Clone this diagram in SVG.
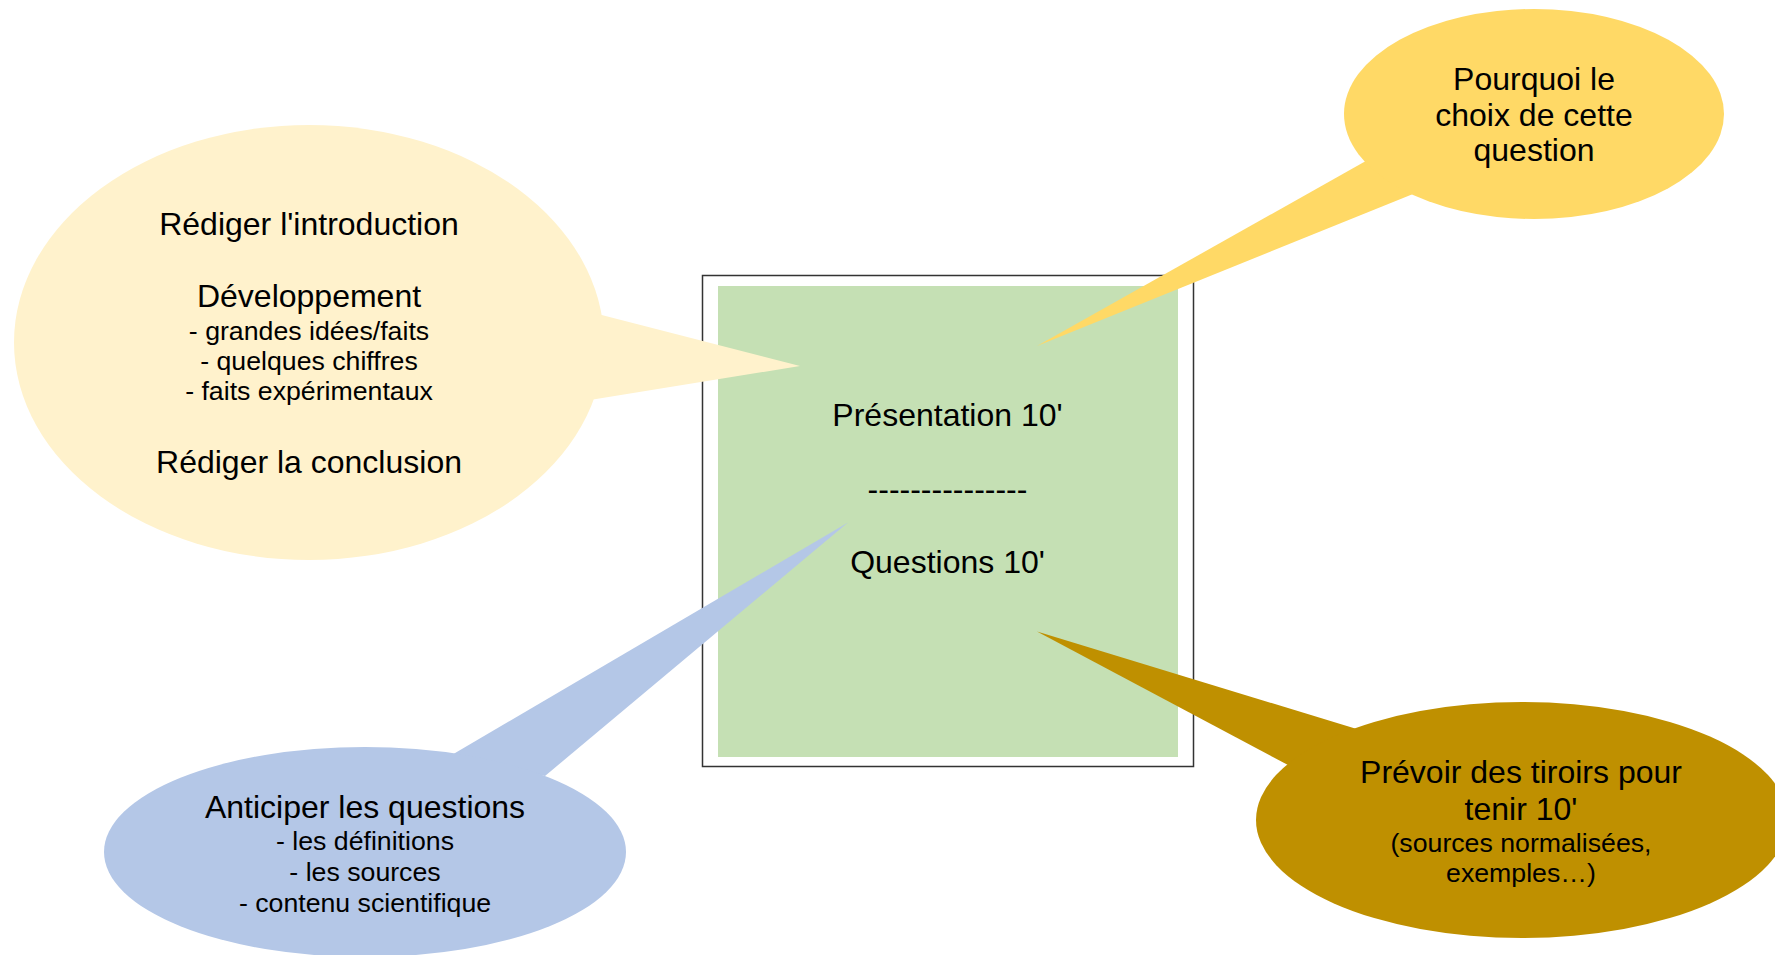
<svg xmlns="http://www.w3.org/2000/svg" width="1775" height="955" viewBox="0 0 1775 955">
<style>
text{font-family:"Liberation Sans",Arial,sans-serif;fill:#000;text-anchor:middle}
.b{font-size:32px}
.s{font-size:26.7px}
.c1{fill:#FFF2CC}
.c2{fill:#FFD966}
.c3{fill:#B4C7E7}
.c4{fill:#BF9000}
</style>
<rect width="1775" height="955" fill="#fff"/>
<g id="center-box">
<rect x="702.5" y="275.5" width="491" height="491" fill="#fff" stroke="#333" stroke-width="1.5"/>
<rect x="718" y="286" width="460" height="471" fill="#C5E0B4"/>
<text class="b" x="947.5" y="426">Présentation 10'</text>
<text class="b" x="947.5" y="500">---------------</text>
<text class="b" x="947.5" y="573">Questions 10'</text>
</g>
<g id="connectors">
<polygon class="c1" points="590,312 800,366 590,400"/>
<polygon class="c2" points="1367.6,160 1037,346 1418,192"/>
<polygon class="c3" points="450,756 848,522.5 545,776"/>
<polygon class="c4" points="1360,730 1037,631.5 1288,765"/>
</g>
<g id="callout-plan">
<ellipse class="c1" cx="309" cy="342.5" rx="295" ry="217.5"/>
<text class="b" x="309" y="235">Rédiger l'introduction</text>
<text class="b" x="309" y="307">Développement</text>
<text class="s" x="309" y="340">- grandes idées/faits</text>
<text class="s" x="309" y="370">- quelques chiffres</text>
<text class="s" x="309" y="400">- faits expérimentaux</text>
<text class="b" x="309" y="473">Rédiger la conclusion</text>
</g>
<g id="callout-pourquoi">
<ellipse class="c2" cx="1534" cy="114" rx="190" ry="105"/>
<text class="b" x="1534" y="89.5">Pourquoi le</text>
<text class="b" x="1534" y="126">choix de cette</text>
<text class="b" x="1534" y="161">question</text>
</g>
<g id="callout-anticiper">
<ellipse class="c3" cx="365" cy="852" rx="261" ry="105"/>
<text class="b" x="365" y="818">Anticiper les questions</text>
<text class="s" x="365" y="850">- les définitions</text>
<text class="s" x="365" y="881">- les sources</text>
<text class="s" x="365" y="912">- contenu scientifique</text>
</g>
<g id="callout-tiroirs">
<ellipse class="c4" cx="1522" cy="820" rx="266" ry="118"/>
<text class="b" x="1521" y="783">Prévoir des tiroirs pour</text>
<text class="b" x="1521" y="820">tenir 10'</text>
<text class="s" x="1521" y="852">(sources normalisées,</text>
<text class="s" x="1521" y="882">exemples…)</text>
</g>
</svg>
